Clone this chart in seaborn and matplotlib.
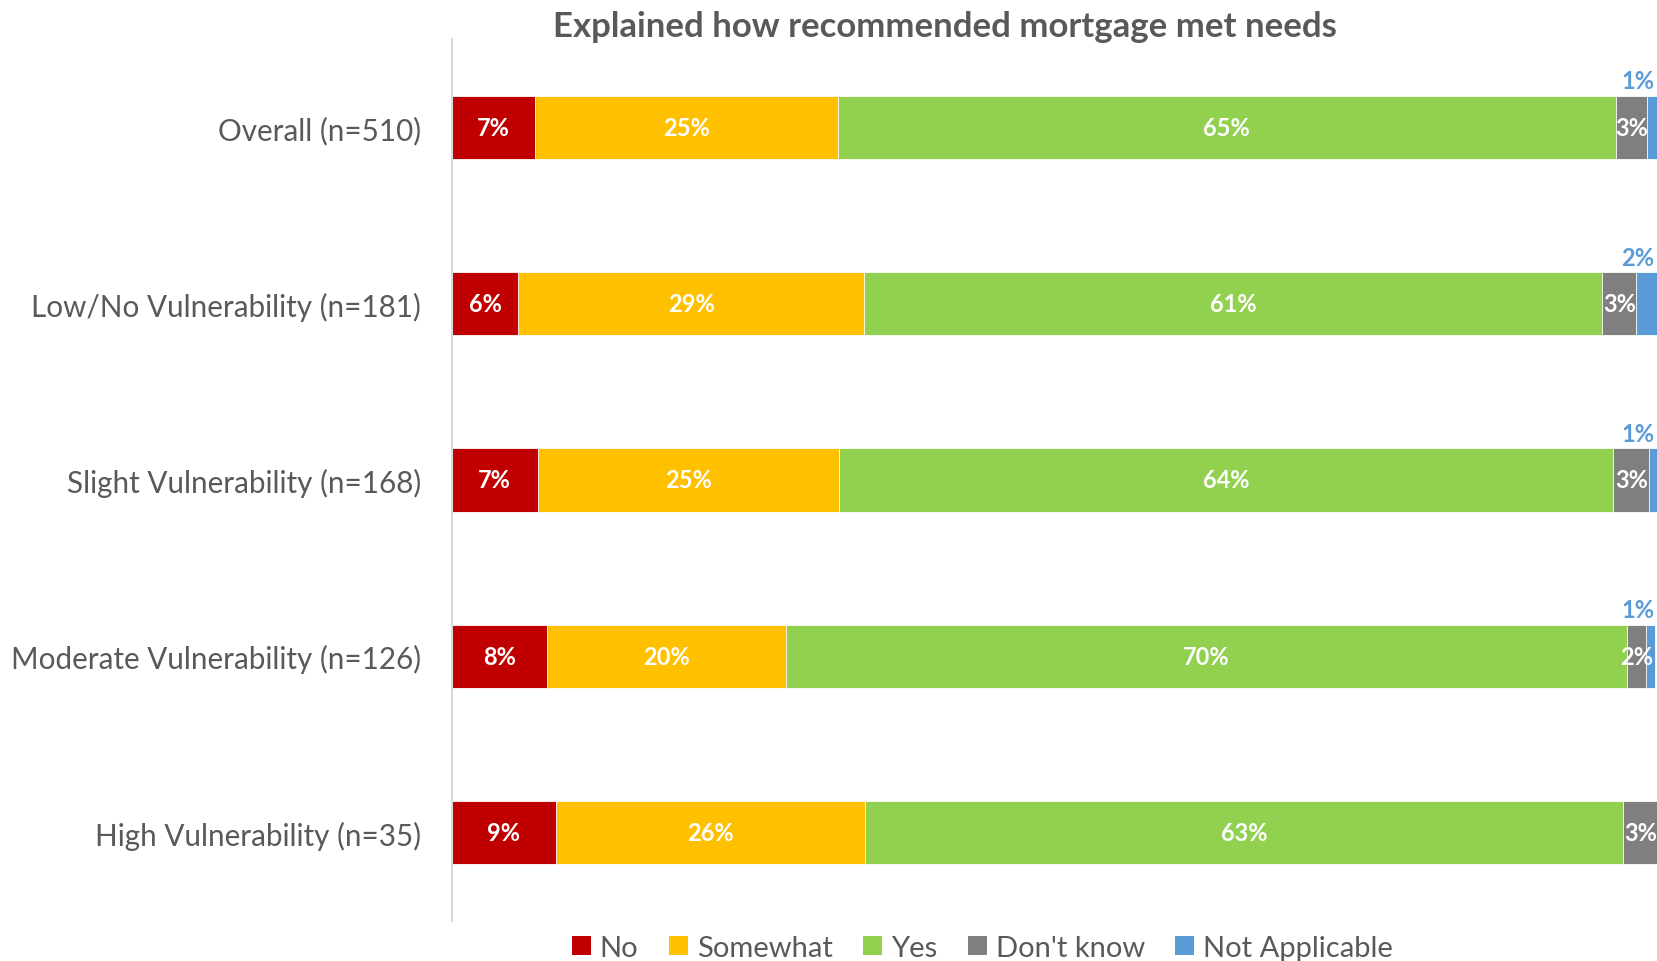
import numpy as np
import pandas as pd
import matplotlib
matplotlib.use("Agg")
import matplotlib.pyplot as plt
import seaborn as sns
from matplotlib.patches import Patch

categories = [
    "Overall (n=510)",
    "Low/No Vulnerability (n=181)",
    "Slight Vulnerability (n=168)",
    "Moderate Vulnerability (n=126)",
    "High Vulnerability (n=35)",
]
series_names = ["No", "Somewhat", "Yes", "Don't know", "Not Applicable"]
no_vals        = [6.9, 5.5, 7.1, 7.9, 8.6]
somewhat_vals  = [25.1, 28.7, 25.0, 19.8, 25.7]
yes_vals       = [64.6, 61.3, 64.3, 69.8, 62.9]
dontknow_vals  = [2.6, 2.8, 3.0, 1.6, 2.9]
na_vals        = [0.8, 1.7, 0.6, 0.8, 0.0]

COLORS = ["#C00000", "#FFC000", "#92D050", "#7F7F7F", "#5B9BD5"]
TEXT = "#595959"
FONT = ["Lato", "DejaVu Sans"]

sns.set_theme(style="white")
plt.rcParams["font.family"] = FONT

df = pd.DataFrame({
    "category": categories,
    "No": no_vals,
    "Somewhat": somewhat_vals,
    "Yes": yes_vals,
    "Don't know": dontknow_vals,
    "Not Applicable": na_vals,
})
cum = df[series_names].cumsum(axis=1)

fig = plt.figure(figsize=(16.57, 9.62), dpi=100)
ax = fig.add_axes([0.2728, 0.042, 0.727, 0.916])

# draw cumulative totals from longest to shortest so the stacks show
for name, col in reversed(list(zip(series_names, COLORS))):
    sns.barplot(x=cum[name], y=df["category"], color=col, saturation=1,
                width=0.36, orient="h", ax=ax,
                edgecolor="white", linewidth=0.6)

ax.set_xlim(0, 100)
ax.set_ylim(4.5, -0.5)
ax.set_xlabel("")
ax.set_ylabel("")
ax.set_xticks([])
ax.tick_params(axis="y", length=0, pad=22.5, labelsize=21.3, labelcolor=TEXT)
for s in ["top", "right", "bottom"]:
    ax.spines[s].set_visible(False)
ax.spines["left"].set_color("#D9D9D9")
ax.spines["left"].set_linewidth(1.5)

# labels
for i in range(len(categories)):
    left = 0
    for j, name in enumerate(series_names):
        v = df[name].iloc[i]
        if v <= 0:
            continue
        pct = f"{int(v + 0.5)}%"
        if name == "Not Applicable":
            ax.text(99.8, i - 0.2, pct, ha="right", va="bottom",
                    color=COLORS[4], fontsize=17, fontweight="bold")
        else:
            ax.text(left + v / 2, i, pct, ha="center", va="center",
                    color="white", fontsize=17, fontweight="bold")
        left += v

fig.text(0.57, 0.972, "Explained how recommended mortgage met needs",
         ha="center", va="center", fontsize=25, fontweight="bold", color=TEXT)

handles = [Patch(facecolor=c, edgecolor="none") for c in COLORS]
fig.legend(handles, series_names, loc="center", bbox_to_anchor=(0.593, 0.014),
           ncol=5, frameon=False, fontsize=21, labelcolor=TEXT,
           handlelength=0.65, handleheight=0.65, handletextpad=0.3,
           columnspacing=1.05)

fig.savefig("out.png", dpi=100)
